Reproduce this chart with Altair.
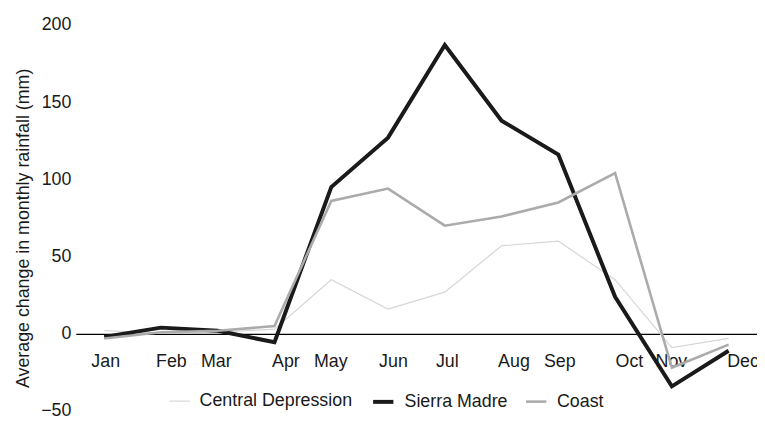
import altair as alt
import pandas as pd

months = ["Jan", "Feb", "Mar", "Apr", "May", "Jun", "Jul", "Aug", "Sep", "Oct", "Nov", "Dec"]
series_names = ["Central Depression", "Sierra Madre", "Coast"]
central_depression = [2, 0.5, 1, 3, 35, 16, 27, 57, 60, 35, -9, -3]
sierra_madre = [-2, 4, 2, -5.5, 95, 127, 187, 138, 116, 24, -34, -11]
coast = [-3, 1, 2, 5, 86, 94, 70, 76, 85, 104, -22, -7]
y_ticks = [-50, 0, 50, 100, 150, 200]

rows = []
for name, vals in zip(series_names, [central_depression, sierra_madre, coast]):
    for i, v in enumerate(vals):
        rows.append({"month": i + 1, "value": v, "series": name})
df = pd.DataFrame(rows)

month_expr = "[" + ",".join("'%s'" % m for m in months) + "][datum.value - 1]"
label_shift = "[1, 10, -2, 11, -1, 5, 2, 12, 1, 14, -1, 14][datum.value - 1]"

FONT = "Liberation Sans"
TXT = "#1a1a1a"

legend_opts = dict(title=None, orient="none", direction="horizontal",
                   legendX=94, legendY=368,
                   labelFont=FONT, labelFontSize=18, labelColor=TXT,
                   symbolType="stroke", symbolSize=420,
                   labelOffset=9, columnPadding=12)

chart = alt.Chart(df).mark_line(strokeJoin="miter", strokeCap="butt").encode(
    x=alt.X("month:Q",
            scale=alt.Scale(domain=[0.5, 12.5], nice=False, zero=False),
            axis=alt.Axis(values=list(range(1, 13)), labelExpr=month_expr,
                          title=None, grid=False, ticks=False, tickSize=0,
                          domain=True, domainColor="#000000", domainWidth=1.2,
                          offset=-78, labelPadding=19,
                          labelOffset={"expr": label_shift},
                          labelFont=FONT, labelFontSize=18, labelColor=TXT,
                          labelOverlap=False, labelFlush=False)),
    y=alt.Y("value:Q",
            scale=alt.Scale(domain=[-50, 200], nice=False),
            axis=alt.Axis(values=y_ticks, title="Average change in monthly rainfall (mm)",
                          grid=True, gridColor="#ffffff", gridOpacity=0, gridWidth=0.01,
                          ticks=False, tickSize=0, domain=False,
                          labelPadding=5, labelFont=FONT, labelFontSize=18,
                          labelColor=TXT, titleFont=FONT, titleFontSize=18,
                          titleFontWeight="normal", titleColor=TXT,
                          titleX=-44, titleY=205)),
    color=alt.Color("series:N",
                    scale=alt.Scale(domain=series_names,
                                    range=["#d6d6d6", "#1a1a1a", "#ababab"]),
                    legend=alt.Legend(**legend_opts)),
    strokeWidth=alt.StrokeWidth("series:N",
                                scale=alt.Scale(type="ordinal", domain=series_names,
                                                range=[1.2, 4, 2.6]),
                                legend=alt.Legend(**legend_opts)),
    detail="series:N",
).properties(
    width=688, height=390,
    autosize=alt.AutoSizeParams(type="none"),
    padding={"left": 68.5, "top": 15, "right": 0, "bottom": 7},
    background="white",
).configure_view(stroke=None)

chart.save("out.html", embed_options={"renderer": "svg", "actions": False})
